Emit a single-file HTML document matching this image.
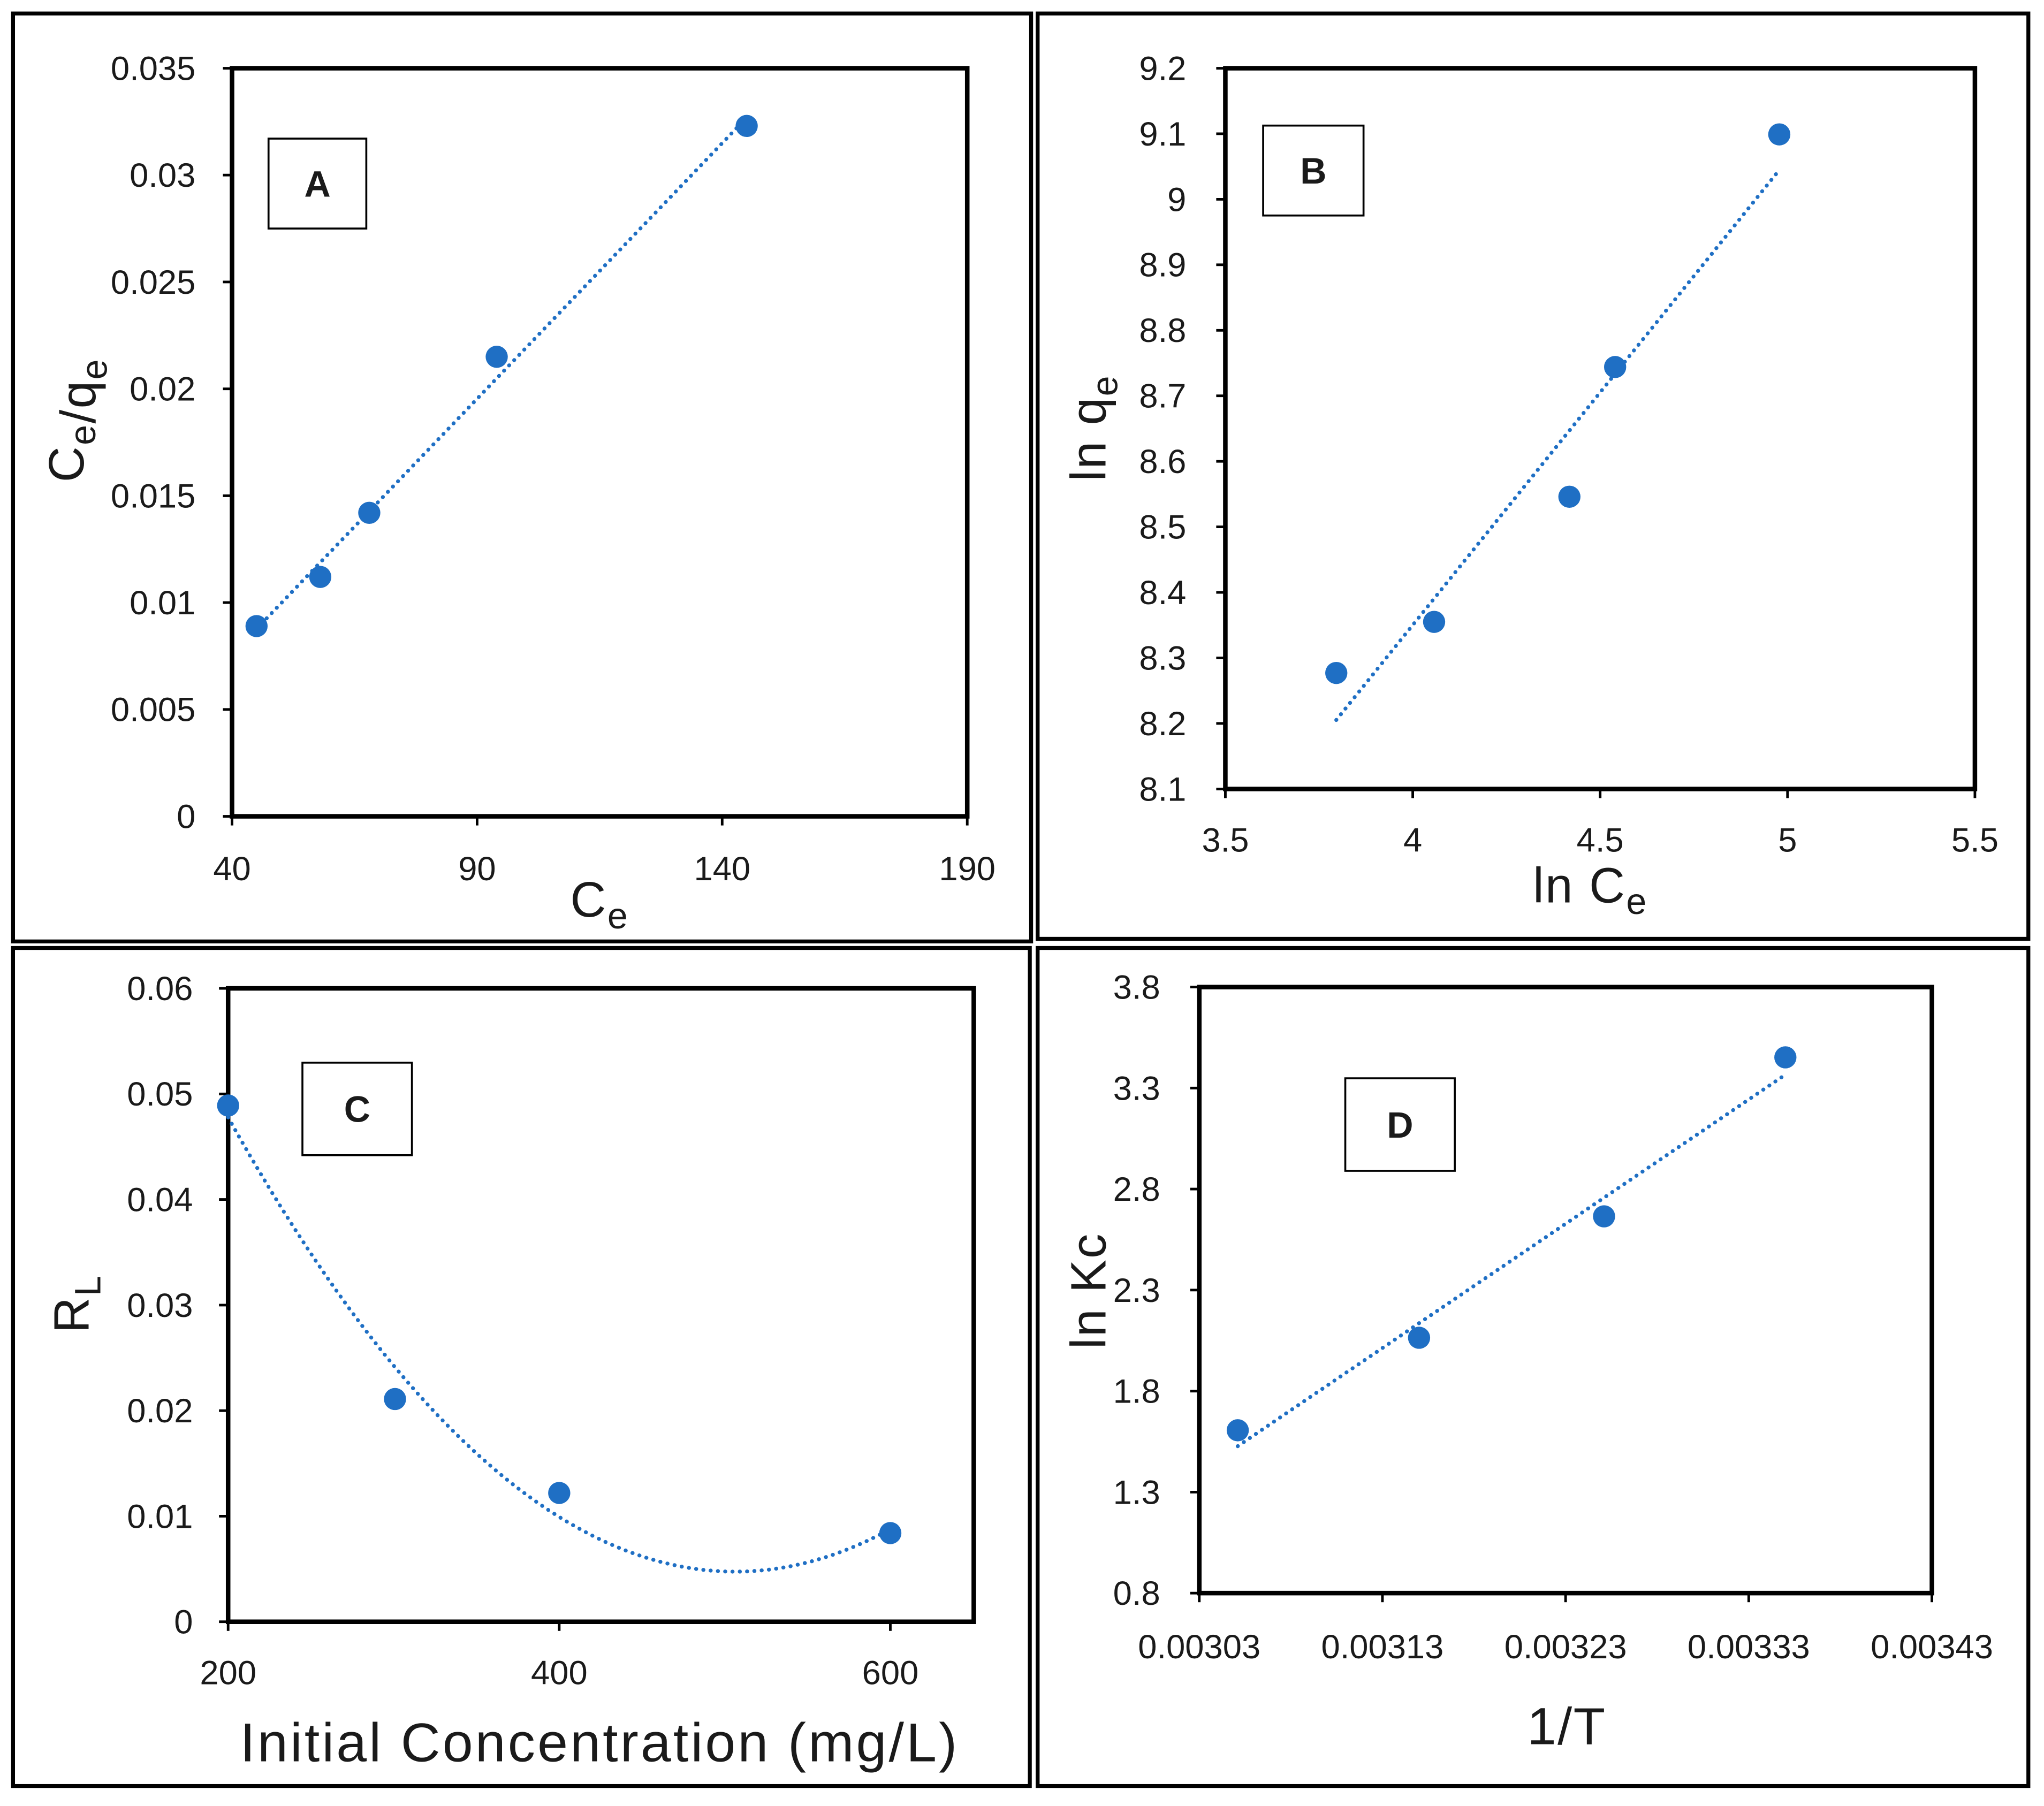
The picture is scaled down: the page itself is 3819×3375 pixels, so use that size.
<!DOCTYPE html>
<html><head><meta charset="utf-8"><style>
html,body{margin:0;padding:0;background:#fff}
svg{display:block}
text{font-family:"Liberation Sans",sans-serif;fill:#1a1a1a}
</style></head><body>
<svg id="s" width="3819" height="3375" viewBox="0 0 1568 1385" xmlns="http://www.w3.org/2000/svg">
<rect x="0" y="0" width="1568" height="1385" fill="#fff"/>
</svg>
<script>
// Panel A data
const aX=[45,58,68,94,145];
const aY=[0.0089,0.0112,0.0142,0.0215,0.0323];
const aXTicks=[40,90,140,190];
const aYTicks=[0,0.005,0.01,0.015,0.02,0.025,0.03,0.035];
// Panel B data
const bX=[3.796,4.057,4.418,4.54,4.978];
const bY=[8.277,8.355,8.546,8.744,9.099];
const bXTicks=[3.5,4,4.5,5,5.5];
const bYTicks=[8.1,8.2,8.3,8.4,8.5,8.6,8.7,8.8,8.9,9,9.1,9.2];
// Panel C data
const cX=[200,300.8,400,600];
const cY=[0.0489,0.0211,0.0122,0.0084];
const cXTicks=[200,400,600];
const cYTicks=[0,0.01,0.02,0.03,0.04,0.05,0.06];
// Panel D data
const dX=[0.003051,0.00315,0.003251,0.00335];
const dY=[1.606,2.064,2.665,3.452];
const dXTicks=[0.00303,0.00313,0.00323,0.00333,0.00343];
const dYTicks=[0.8,1.3,1.8,2.3,2.8,3.3,3.8];

const NS="http://www.w3.org/2000/svg";
const svg=document.getElementById('s');
const BLUE="#1f6fc4";
function el(tag,attrs,parent){const e=document.createElementNS(NS,tag);for(const k in attrs)e.setAttribute(k,attrs[k]);(parent||svg).appendChild(e);return e;}

function linfit(xs,ys){const n=xs.length;let sx=0,sy=0,sxx=0,sxy=0;for(let i=0;i<n;i++){sx+=xs[i];sy+=ys[i];sxx+=xs[i]*xs[i];sxy+=xs[i]*ys[i];}const m=(n*sxy-sx*sy)/(n*sxx-sx*sx);const b=(sy-m*sx)/n;return x=>m*x+b;}
function quadfit(xs,ys){
  const s=xs.map(x=>x/100);const S=[0,0,0,0,0],T=[0,0,0];
  for(let i=0;i<s.length;i++){for(let k=0;k<5;k++)S[k]+=Math.pow(s[i],k);for(let k=0;k<3;k++)T[k]+=ys[i]*Math.pow(s[i],k);}
  const M=[[S[0],S[1],S[2],T[0]],[S[1],S[2],S[3],T[1]],[S[2],S[3],S[4],T[2]]];
  for(let i=0;i<3;i++){for(let j=i+1;j<3;j++){const f=M[j][i]/M[i][i];for(let k=i;k<4;k++)M[j][k]-=f*M[i][k];}}
  const c=[0,0,0];for(let i=2;i>=0;i--){let v=M[i][3];for(let k=i+1;k<3;k++)v-=M[i][k]*c[k];c[i]=v/M[i][i];}
  return x=>{const t=x/100;return c[0]+c[1]*t+c[2]*t*t;};
}

function panel(cfg){
  const g=el('g',{});
  
  
  const fr=el('rect',{x:cfg.frame[0],y:cfg.frame[1],width:cfg.frame[2]-cfg.frame[0],height:cfg.frame[3]-cfg.frame[1],fill:'none',stroke:'#000','stroke-width':3},g);
  
  
  const [L,T,R,B]=cfg.plot;
  const sx=v=>L+(v-cfg.xr[0])/(cfg.xr[1]-cfg.xr[0])*(R-L);
  const sy=v=>B-(v-cfg.yr[0])/(cfg.yr[1]-cfg.yr[0])*(B-T);
  const pa=el('rect',{x:L,y:T,width:R-L,height:B-T,fill:'none',stroke:'#000','stroke-width':3.5},g);
  
  
  cfg.xt.forEach(v=>{
    el('line',{x1:sx(v),x2:sx(v),y1:B,y2:B+7,stroke:'#000','stroke-width':2},g);
    const t=el('text',{x:sx(v),y:cfg.xly,'text-anchor':'middle','font-size':26},g);
    t.textContent=cfg.xfmt?cfg.xfmt(v):String(v);
    
    
  });
  cfg.yt.forEach(v=>{
    el('line',{x1:L-7,x2:L,y1:sy(v),y2:sy(v),stroke:'#000','stroke-width':2},g);
    const t=el('text',{x:cfg.ylx,y:sy(v)+9,'text-anchor':'end','font-size':26},g);
    t.textContent=String(v);
    
    
  });
  const f=cfg.fit(cfg.xs,cfg.ys);
  const x0=Math.min(...cfg.xs),x1=Math.max(...cfg.xs);let d='';
  for(let i=0;i<=60;i++){const x=x0+(x1-x0)*i/60;d+=(i?'L':'M')+sx(x).toFixed(2)+' '+sy(f(x)).toFixed(2);}
  const tl=el('path',{d:d,fill:'none',stroke:BLUE,'stroke-width':3,'stroke-dasharray':'0.1 5.5','stroke-linecap':'round'},g);
  
  
  cfg.xs.forEach((x,i)=>{
    const c=el('circle',{cx:sx(x),cy:sy(cfg.ys[i]),r:8.5,fill:BLUE},g);
    
    
  });
  const lb=cfg.lbox;
  const r=el('rect',{x:lb[0],y:lb[1],width:lb[2]-lb[0],height:lb[3]-lb[1],fill:'#fff',stroke:'#000','stroke-width':1.5},g);
  
  
  const lt=el('text',{x:(lb[0]+lb[2])/2,y:(lb[1]+lb[3])/2+10,'text-anchor':'middle','font-size':28,'font-weight':'bold','font-family':cfg.serif?'Liberation Serif,serif':'Liberation Sans,sans-serif'},g);
  lt.textContent=cfg.letter;
  
  
  const xt=el('text',{x:cfg.xtitle[0],y:cfg.xtitle[1],'text-anchor':'middle','font-size':cfg.xtitle[3]||38,'letter-spacing':cfg.xtitle[4]||1},g);
  xt.innerHTML=cfg.xtitle[2];
  
  
  const yt=el('text',{x:0,y:0,'text-anchor':'middle','font-size':38,'letter-spacing':1,transform:`translate(${cfg.ytitle[0]},${cfg.ytitle[1]}) rotate(-90)`},g);
  yt.innerHTML=cfg.ytitle[2];
  
  
}
const sub=t=>`<tspan font-size="28" dy="9">${t}</tspan><tspan dy="-9"></tspan>`;
panel({name:'panel-a',frame:[10,10,791,722],plot:[178,52,742,626],xr:[40,190],yr:[0,0.035],xt:aXTicks,yt:aYTicks,xs:aX,ys:aY,fit:linfit,
  xly:675,ylx:150,lbox:[206,106,281,175],letter:'A',serif:true,xtitle:[460,703,'C'+sub('e')],ytitle:[64,322,'C'+sub('e')+'/q'+sub('e')]});
panel({name:'panel-b',frame:[796,10,1556,720],plot:[940,52,1515,605],xr:[3.5,5.5],yr:[8.1,9.2],xt:bXTicks,yt:bYTicks,xs:bX,ys:bY,fit:linfit,
  xly:653,ylx:910,lbox:[969,96,1046,165],letter:'B',xtitle:[1220,692,'ln C'+sub('e')],ytitle:[848,328,'ln q'+sub('e')]});
panel({name:'panel-c',frame:[10,727,790,1370],plot:[175,758,747,1244],xr:[200,650.4],yr:[0,0.06],xt:cXTicks,yt:cYTicks,xs:cX,ys:cY,fit:quadfit,
  xly:1292,ylx:148,lbox:[232,815,316,886],letter:'C',xtitle:[460,1351,'Initial Concentration (mg/L)',42,1.7],ytitle:[68,1000,'R'+sub('L')]});
panel({name:'panel-d',frame:[796,727,1556,1370],plot:[920,757,1482,1222],xr:[0.00303,0.00343],yr:[0.8,3.8],xt:dXTicks,yt:dYTicks,xs:dX,ys:dY,fit:linfit,
  xly:1272,ylx:890,xfmt:v=>v.toFixed(5),lbox:[1032,827,1116,898],letter:'D',xtitle:[1202,1338,'1/T',40],ytitle:[848,990,'ln Kc']});
</script>
</body></html>
